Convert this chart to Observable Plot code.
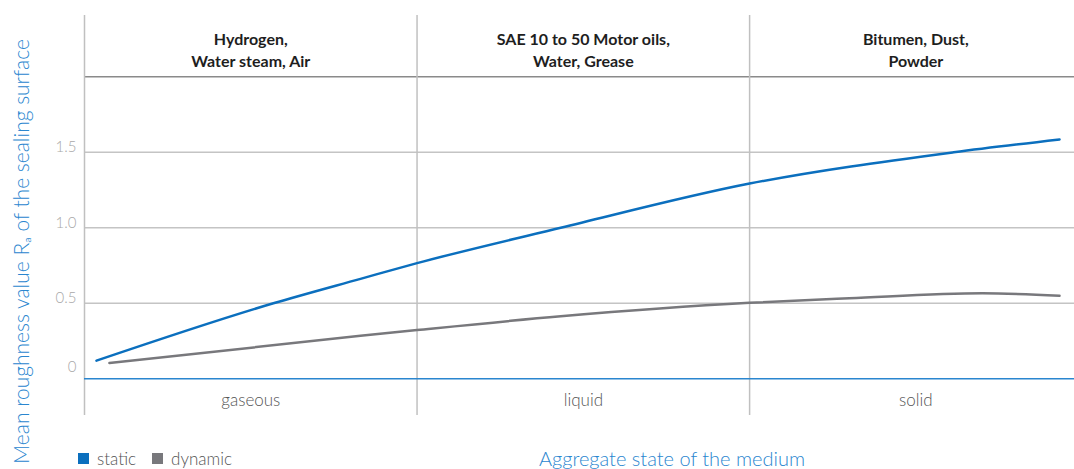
<!DOCTYPE html>
<html>
<head>
<meta charset="utf-8">
<script src="https://cdn.jsdelivr.net/npm/d3@7"></script>
<script src="https://cdn.jsdelivr.net/npm/@observablehq/plot@0.6"></script>
<style>
  html, body { margin: 0; padding: 0; background: #fff; }
  body { width: 1074px; height: 469px; overflow: hidden; font-family: Lato, sans-serif; }
  #below { position: relative; height: 29px; width: 1074px; }
  #legend { position: absolute; left: 78px; top: 8px; display: flex; align-items: center; font-size: 17px; font-weight: 300; color: #555; }
  #legend .item { display: flex; align-items: center; margin-right: 16px; }
  #legend .sw { width: 11px; height: 11px; margin-right: 8px; }
  #xtitle { position: absolute; left: 672px; top: 7px; transform: translateX(-50%); font-size: 20px; font-weight: 300; color: #2a86cf; white-space: nowrap; line-height: 22px; }
</style>
</head>
<body>
<div id="chart"></div>
<div id="below"><div id="legend"></div><div id="xtitle"></div></div>
<script>
// Categories (aggregate state) and media labels per column
const categories = ["gaseous", "liquid", "solid"];
const media = ["Hydrogen,\nWater steam, Air", "SAE 10 to 50 Motor oils,\nWater, Grease", "Bitumen, Dust,\nPowder"];

// Series: position along aggregate-state axis (0..3) and Ra value
const staticX = [0.036, 0.568, 0.83, 1.0, 1.432, 2.0, 2.614, 2.932];
const staticY = [0.12, 0.50, 0.662, 0.766, 1.0, 1.293, 1.50, 1.585];
const dynamicX = [0.075, 0.83, 1.0, 1.432, 2.0, 2.3, 2.7, 2.932];
const dynamicY = [0.104, 0.285, 0.323, 0.414, 0.503, 0.533, 0.566, 0.55];

const seriesNames = ["static", "dynamic"];
const seriesColors = ["#0b6fbe", "#78787c"];

const yTicks = [0.5, 1, 1.5];
const yZeroTick = [0];
const yHeaderLine = [2];
const columnBounds = [0, 1, 2];

const yLabel = "Mean roughness value Rₐ of the sealing surface";
const xLabel = "Aggregate state of the medium";

const rows = [
  ...staticX.map((x, i) => ({series: "static", x, y: staticY[i]})),
  ...dynamicX.map((x, i) => ({series: "dynamic", x, y: dynamicY[i]}))
];

const fmt = d => d === 0 ? "0" : d.toFixed(1);

const chart = Plot.plot({
  width: 1074,
  height: 440,
  marginLeft: 84,
  marginRight: 0,
  marginTop: 15,
  marginBottom: 25,
  style: {fontFamily: "Lato, sans-serif", overflow: "visible", background: "#fff"},
  x: {domain: [0, 2.977], axis: null},
  y: {domain: [-0.243, 2.406], axis: null},
  color: {domain: seriesNames, range: seriesColors},
  marks: [
    Plot.ruleY(yTicks, {stroke: "#c4c4c4", strokeWidth: 1.5}),
    Plot.ruleY(yHeaderLine, {stroke: "#8a8a8a", strokeWidth: 1.5}),
    Plot.ruleX(columnBounds, {stroke: "#c0c0c0", strokeWidth: 1.5}),
    Plot.ruleY(yZeroTick, {stroke: "#2a86cf", strokeWidth: 1.5}),
    Plot.axisY(yTicks, {label: null, tickSize: 0, tickPadding: 8, tickFormat: fmt, dy: -5, fontSize: 15, fontWeight: 300, fill: "#a8a8a8"}),
    Plot.axisY(yZeroTick, {label: null, tickSize: 0, tickPadding: 8, tickFormat: fmt, dy: -12, fontSize: 15, fontWeight: 300, fill: "#a8a8a8"}),
    Plot.line(rows, {x: "x", y: "y", z: "series", stroke: "series", strokeWidth: 2.5, curve: "monotone-x"}),
    Plot.text(categories, {x: (d, i) => i + 0.5, frameAnchor: "bottom", dy: -15, lineAnchor: "middle", fontSize: 17, fontWeight: 300, fill: "#555"}),
    Plot.text(media, {x: (d, i) => i + 0.5, frameAnchor: "top", dy: 33, lineAnchor: "middle", lineHeight: 1.375, fontSize: 16, fontWeight: "bold", fill: "#1e1e1e"}),
    Plot.text([yLabel], {frameAnchor: "left", rotate: -90, dx: -62, dy: 36, textAnchor: "middle", lineAnchor: "middle", fontSize: 21, fontWeight: 300, fill: "#2a86cf"})
  ]
});
document.getElementById("chart").appendChild(chart);

const legend = document.getElementById("legend");
seriesNames.forEach((name, i) => {
  const item = document.createElement("div");
  item.className = "item";
  const sw = document.createElement("div");
  sw.className = "sw";
  sw.style.background = seriesColors[i];
  const t = document.createElement("span");
  t.textContent = name;
  item.appendChild(sw);
  item.appendChild(t);
  legend.appendChild(item);
});
document.getElementById("xtitle").textContent = xLabel;
</script>
</body>
</html>
